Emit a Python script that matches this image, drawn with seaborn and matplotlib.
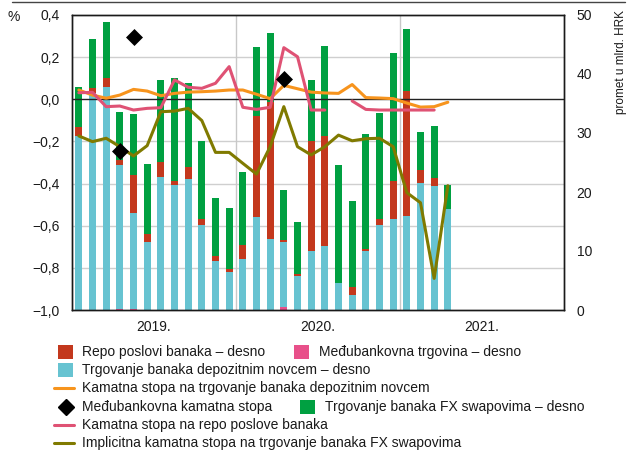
import numpy as np
import pandas as pd
import matplotlib
matplotlib.use("Agg")
import matplotlib.pyplot as plt
from matplotlib.patches import Rectangle
from matplotlib.lines import Line2D
import seaborn as sns

# ---------------- data ----------------
months = list(range(28))  # Jan 2019 .. Apr 2021
year_labels = ["2019.", "2020.", "2021."]

# stacked bars (right axis, bn HRK), bottom -> top
interbank = [0, 0, 0, 0.15, 0.15, 0, 0, 0, 0, 0, 0, 0, 0, 0, 0, 0.55,
             0, 0, 0, 0, 0, 0, 0, 0, 0, 0, 0, 0]
deposit = [29.5, 36.7, 37.8, 24.35, 16.25, 11.6, 22.5, 21.2, 22.2, 14.4, 8.3, 6.5,
           8.6, 15.8, 12.0, 11.05, 5.8, 10.0, 10.9, 4.5, 2.5, 10.0, 14.4, 15.5,
           15.9, 21.5, 21.1, 17.1]
repo = [1.5, 1.0, 1.6, 0.9, 6.4, 1.2, 2.6, 0.6, 2.0, 1.0, 0.9, 0.4,
        2.4, 17.1, 23.3, 0.3, 0.3, 18.6, 18.6, 0.0, 1.35, 0.4, 1.0, 6.4,
        21.3, 2.2, 1.2, 0.0]
fxswap = [6.8, 8.2, 9.4, 8.2, 10.4, 11.9, 13.8, 17.6, 14.3, 13.2, 9.7, 10.4,
          12.4, 11.6, 11.7, 8.5, 8.9, 10.4, 15.3, 20.0, 14.65, 19.4, 18.0, 21.6,
          10.5, 6.5, 8.9, 4.1]

# lines (left axis, %)
rate_deposit = [0.044, 0.02, 0.005, 0.02, 0.047, 0.039, 0.017, 0.028, 0.034, 0.036,
                0.039, 0.044, 0.044, 0.024, 0.003, 0.066, 0.05, 0.034, 0.03, 0.028,
                0.07, 0.008, 0.006, 0.003, -0.018, -0.037, -0.035, -0.014]
rate_repo = [0.031, 0.033, -0.035, -0.032, -0.051, -0.043, -0.04, 0.092, 0.057, 0.052,
             0.076, 0.155, -0.038, -0.048, -0.038, 0.245, 0.202, -0.051, -0.051, np.nan,
             -0.008, -0.048, -0.051, -0.051, -0.051, -0.051, -0.051, np.nan]
rate_fx = [-0.174, -0.201, -0.185, -0.225, -0.269, -0.22, -0.059, -0.056, -0.043, -0.101,
           -0.252, -0.252, -0.304, -0.355, -0.225, -0.035, -0.225, -0.264, -0.225, -0.17,
           -0.197, -0.187, -0.185, -0.225, -0.443, -0.491, -0.85, -0.41]
interbank_rate_x = [3, 4, 15]
interbank_rate = [-0.244, 0.297, 0.098]

left_ticks = [-1.0, -0.8, -0.6, -0.4, -0.2, 0.0, 0.2, 0.4]
right_ticks = [0, 10, 20, 30, 40, 50]

# ---------------- style ----------------
C_GREEN = "#00A041"
C_RED = "#C3381D"
C_CYAN = "#67C3D1"
C_PINKBAR = "#E8508A"
C_ORANGE = "#F7941D"
C_PINKLINE = "#DF5274"
C_OLIVE = "#807A00"

sns.set_theme(style="white")
plt.rcParams["font.family"] = ["Liberation Sans", "DejaVu Sans"]
plt.rcParams["axes.unicode_minus"] = True
FS = 10

W, H = 638, 454
fig = plt.figure(figsize=(W / 100, H / 100), dpi=100)
L, R, T, B = 72, 564, 15, 310
axb = fig.add_axes([L / W, 1 - B / H, (R - L) / W, (B - T) / H])
axl = axb.twinx()

# bars: cumulative overlay (tallest first)
c1 = np.array(interbank)
c2 = c1 + np.array(deposit)
c3 = c2 + np.array(repo)
c4 = c3 + np.array(fxswap)
df = pd.DataFrame({"m": months, "c1": c1, "c2": c2, "c3": c3, "c4": c4})
for col, colr in [("c4", C_GREEN), ("c3", C_RED), ("c2", C_CYAN), ("c1", C_PINKBAR)]:
    sns.barplot(data=df, x="m", y=col, ax=axb, color=colr, width=0.5,
                saturation=1, native_scale=True, linewidth=0, zorder=2)

axb.set_xlim(-0.5, 35.5)
axb.set_ylim(0, 50)
axb.yaxis.tick_right()
axb.yaxis.set_label_position("right")
axb.set_yticks(right_ticks)
axb.set_yticklabels([str(t) for t in right_ticks])
axb.set_xticks([5.5, 17.5, 29.5])
axb.set_xticklabels(year_labels)
axb.set_xlabel("")
axb.set_ylabel("")

# grid lines behind bars (at left-axis ticks)
for v in left_ticks[1:-1]:
    if v == 0.0:
        continue
    axb.axhline((v + 1.0) / 1.4 * 50, color="#CFCFCF", lw=1.0, zorder=0)
for xv in [11.5, 23.5]:
    axb.axvline(xv, color="#C8C8C8", lw=1.0, zorder=0)

# lines on left axis
axl.set_ylim(-1.0, 0.4)
axl.yaxis.tick_left()
axl.set_yticks(left_ticks)
axl.set_yticklabels([f"{t:.1f}".replace(".", ",").replace("-", "\u2212") for t in left_ticks])
axl.axhline(0, color="#222222", lw=1.0, zorder=1)
sns.lineplot(x=months, y=rate_fx, ax=axl, color=C_OLIVE, lw=2.2, zorder=3)
sns.lineplot(x=months, y=rate_deposit, ax=axl, color=C_ORANGE, lw=2.2, zorder=4)
rp = np.array(rate_repo)
axl.plot(months, rp, color=C_PINKLINE, lw=2.2, zorder=5)
sns.scatterplot(x=interbank_rate_x, y=interbank_rate, ax=axl, marker="D",
                color="black", s=75, linewidth=0, zorder=6)
axl.set_xlim(-0.5, 35.5)

for ax in (axb, axl):
    ax.tick_params(length=0, labelsize=FS, colors="#1a1a1a")
    for s in ax.spines.values():
        s.set_color("#1a1a1a")
        s.set_linewidth(1.0)
axb.tick_params(axis="y", pad=9)
axl.tick_params(axis="y", pad=9)
axb.tick_params(axis="x", pad=7)

# texts
fig.text(14 / W, 1 - 17 / H, "%", fontsize=FS, ha="center", va="center", color="#1a1a1a")
fig.text(621 / W, 1 - 10 / H, "promet u mlrd. HRK", fontsize=8.5, rotation=90,
         ha="center", va="top", color="#1a1a1a")
fig.add_artist(Line2D([12 / W, 625 / W], [1 - 1.5 / H] * 2, color="#444444", lw=1.0))

# legend (manual layout)
def sq(x, y, c):
    fig.add_artist(Rectangle((x / W, 1 - (y + 7) / H), 15 / W, 14 / H, color=c, lw=0))

def ln(x, y, c):
    fig.add_artist(Line2D([x / W, (x + 20) / W], [1 - y / H] * 2, color=c, lw=2.2))

def tx(x, y, s):
    fig.text(x / W, 1 - y / H, s, fontsize=FS, ha="left", va="center", color="#1a1a1a")

rows = [352, 370, 388, 407, 425, 443]
sq(58, rows[0], C_RED); tx(82, rows[0], "Repo poslovi banaka \u2013 desno")
sq(294, rows[0], C_PINKBAR); tx(319, rows[0], "Me\u0111ubankovna trgovina \u2013 desno")
sq(58, rows[1], C_CYAN); tx(82, rows[1], "Trgovanje banaka depozitnim novcem \u2013 desno")
ln(54, rows[2], C_ORANGE); tx(82, rows[2], "Kamatna stopa na trgovanje banaka depozitnim novcem")
fig.add_artist(Line2D([66 / W], [1 - rows[3] / H], marker="D", color="black",
                      markersize=8.5, lw=0))
tx(82, rows[3], "Me\u0111ubankovna kamatna stopa")
sq(300, rows[3], C_GREEN); tx(325, rows[3], "Trgovanje banaka FX swapovima \u2013 desno")
ln(54, rows[4], C_PINKLINE); tx(82, rows[4], "Kamatna stopa na repo poslove banaka")
ln(54, rows[5], C_OLIVE); tx(82, rows[5], "Implicitna kamatna stopa na trgovanje banaka FX swapovima")

fig.savefig("out.png", dpi=100)
